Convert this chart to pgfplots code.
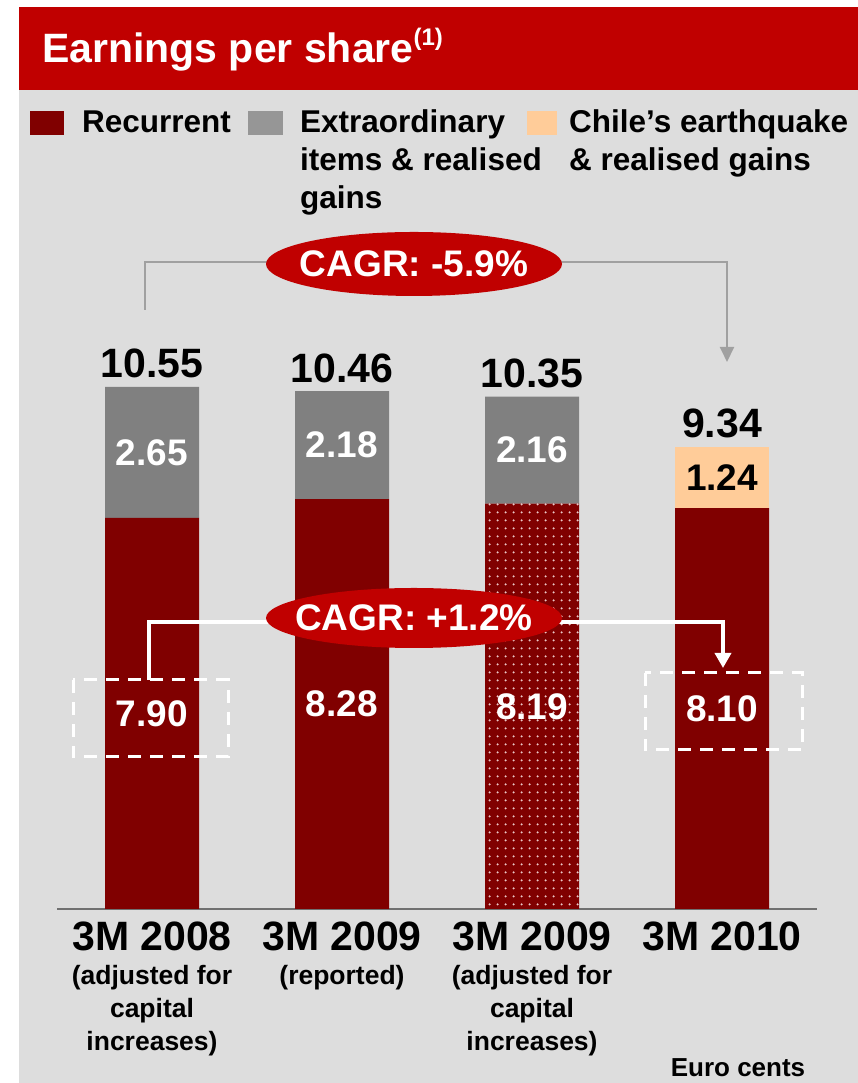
\documentclass[border=0pt]{standalone}
\usepackage{pgfplots}
\pgfplotsset{compat=1.18}
\usepackage{pgfplotstable}
\usepackage{fontspec}
\setmainfont{Liberation Sans}
\usetikzlibrary{arrows.meta,patterns.meta}

\definecolor{recred}{HTML}{800000}
\definecolor{extgray}{HTML}{808080}
\definecolor{leggray}{HTML}{969696}
\definecolor{chilepeach}{HTML}{FFCC99}
\definecolor{titlered}{HTML}{C00000}
\definecolor{panel}{HTML}{DDDDDD}
\definecolor{dotpink}{HTML}{EAC6C6}
\definecolor{bracketgray}{HTML}{A0A0A0}
\definecolor{axisgray}{HTML}{707070}

% dotted fill of the adjusted 2009 bar
\tikzdeclarepattern{
  name=bigdots, type=uncolored,
  bottom left={(0pt,0pt)}, top right={(7.6pt,7.6pt)},
  tile size={(7.6pt,7.6pt)},
  code={\fill (3.8pt,3.8pt) circle (1.2pt);}
}

% earnings per share, euro cents
\pgfplotstableread{
x rec ext chile total
0 7.90 2.65 0 10.55
1 8.28 2.18 0 10.46
2 8.19 2.16 0 10.35
3 8.10 0 1.24 9.34
}\epsdata

\newcommand{\totfont}{\bfseries\fontsize{41}{41}\selectfont}
\newcommand{\segfont}{\bfseries\fontsize{37}{37}\selectfont}
\newcommand{\legfont}{\bfseries\fontsize{31.5}{38}\selectfont}
\newcommand{\catfont}{\fontsize{41}{34}\selectfont}

\pgfplotsset{epsaxis/.style={
  scale only axis, width=760pt, height=742.5pt,
  at={(57pt,174pt)}, anchor=south west,
  xmin=-0.5, xmax=3.5, ymin=0, ymax=15, clip=false,
}}

\begin{document}
\begin{tikzpicture}
% panel, title and legend (px coordinates, y downwards)
\begin{scope}[x=1pt, y=-1pt, shift={(0pt,1083pt)}]
  \fill[white] (0,0) rectangle (858,1083);
  \fill[panel] (19,90) rectangle (858,1083);
  \fill[titlered] (19,7) rectangle (858,90);
  \node[anchor=base west, inner sep=0pt, text=white, font=\totfont] at (42,63)
    {Earnings per share\raisebox{17pt}{\fontsize{24}{24}\selectfont(1)}};
  \fill[recred] (30,111) rectangle (64,135);
  \fill[leggray] (248,111) rectangle (283,135);
  \fill[chilepeach] (527,111) rectangle (557,135);
  \node[anchor=base west, inner sep=0pt, font=\legfont] at (82,133) {Recurrent};
  \node[anchor=base west, inner sep=0pt, font=\legfont] at (300,133) {Extraordinary};
  \node[anchor=base west, inner sep=0pt, font=\legfont] at (300,171) {items \& realised};
  \node[anchor=base west, inner sep=0pt, font=\legfont] at (300,209) {gains};
  \node[anchor=base west, inner sep=0pt, font=\legfont] at (569,133) {Chile’s earthquake};
  \node[anchor=base west, inner sep=0pt, font=\legfont] at (569,171) {\& realised gains};
\end{scope}

\begin{axis}[epsaxis, ybar stacked, bar width=94pt,
  axis x line=bottom, axis y line=none,
  x axis line style={-, draw=axisgray, line width=1.5pt},
  xtick={0,1,2,3}, major tick length=0pt,
  xticklabels={
    {\catfont 3M 2008\\[1pt](adjusted for\\capital\\increases)},
    {\catfont 3M 2009\\[1pt](reported)},
    {\catfont 3M 2009\\[1pt](adjusted for\\capital\\increases)},
    {\catfont 3M 2010}},
  xticklabel style={align=center, anchor=north, inner sep=0pt,
    yshift=-13pt, font=\bfseries\fontsize{26.5}{33}\selectfont},
]
\addplot[fill=recred, draw=none] table[x=x, y=rec] {\epsdata};
\addplot[fill=extgray, draw=none] table[x=x, y=ext] {\epsdata};
\addplot[fill=chilepeach, draw=none] table[x=x, y=chile] {\epsdata};
\end{axis}

\begin{axis}[epsaxis, hide axis, unbounded coords=discard]
\addplot[ybar, bar width=94pt, bar shift=0pt, draw=none, pattern=bigdots, pattern color=dotpink]
  table[x=x, y expr={\thisrow{x}==2 ? \thisrow{rec} : nan}] {\epsdata};
\addplot[draw=none, mark=none, point meta=explicit symbolic, nodes near coords,
  nodes near coords style={anchor=center, text=white, font=\segfont}]
  table[x=x, y expr=\thisrow{rec}/2, meta=rec] {\epsdata};
\addplot[draw=none, mark=none, point meta=explicit symbolic, nodes near coords,
  nodes near coords style={anchor=center, text=white, font=\segfont}]
  table[x=x, y expr={\thisrow{ext}>0 ? \thisrow{rec}+\thisrow{ext}/2 : nan}, meta=ext] {\epsdata};
\addplot[draw=none, mark=none, point meta=explicit symbolic, nodes near coords,
  nodes near coords style={anchor=center, text=black, font=\segfont}]
  table[x=x, y expr={\thisrow{chile}>0 ? \thisrow{rec}+\thisrow{chile}/2 : nan}, meta=chile] {\epsdata};
\addplot[draw=none, mark=none, point meta=explicit symbolic, nodes near coords,
  nodes near coords style={anchor=base, yshift=9pt, text=black, font=\totfont}]
  table[x=x, y=total, meta=total] {\epsdata};
\end{axis}

% CAGR call-outs and boxes
\begin{scope}[x=1pt, y=-1pt, shift={(0pt,1083pt)}]
  \draw[bracketgray, line width=2pt, -{Triangle[width=14pt,length=15pt]}]
    (145,310) -- (145,262) -- (727,262) -- (727,362);
  \fill[titlered] (414,264) ellipse [x radius=148pt, y radius=32pt];
  \node[text=white, font=\segfont] at (414,264) {CAGR: -5.9\%};
  \draw[white, line width=3.5pt, -{Triangle[width=16pt,length=15pt]}]
    (149,680) -- (149,622) -- (723,622) -- (723,668);
  \fill[titlered] (414,618) ellipse [x radius=148pt, y radius=30pt];
  \node[text=white, font=\segfont] at (414,618) {CAGR: +1.2\%};
  \draw[white, line width=3pt, dash pattern=on 13pt off 9pt] (73,680) rectangle (228,757);
  \draw[white, line width=3pt, dash pattern=on 13pt off 9pt] (645,673) rectangle (802,750);
  \node[anchor=base, inner sep=0pt, font=\bfseries\fontsize{26}{26}\selectfont] at (738,1077) {Euro cents};
\end{scope}
\end{tikzpicture}
\end{document}
